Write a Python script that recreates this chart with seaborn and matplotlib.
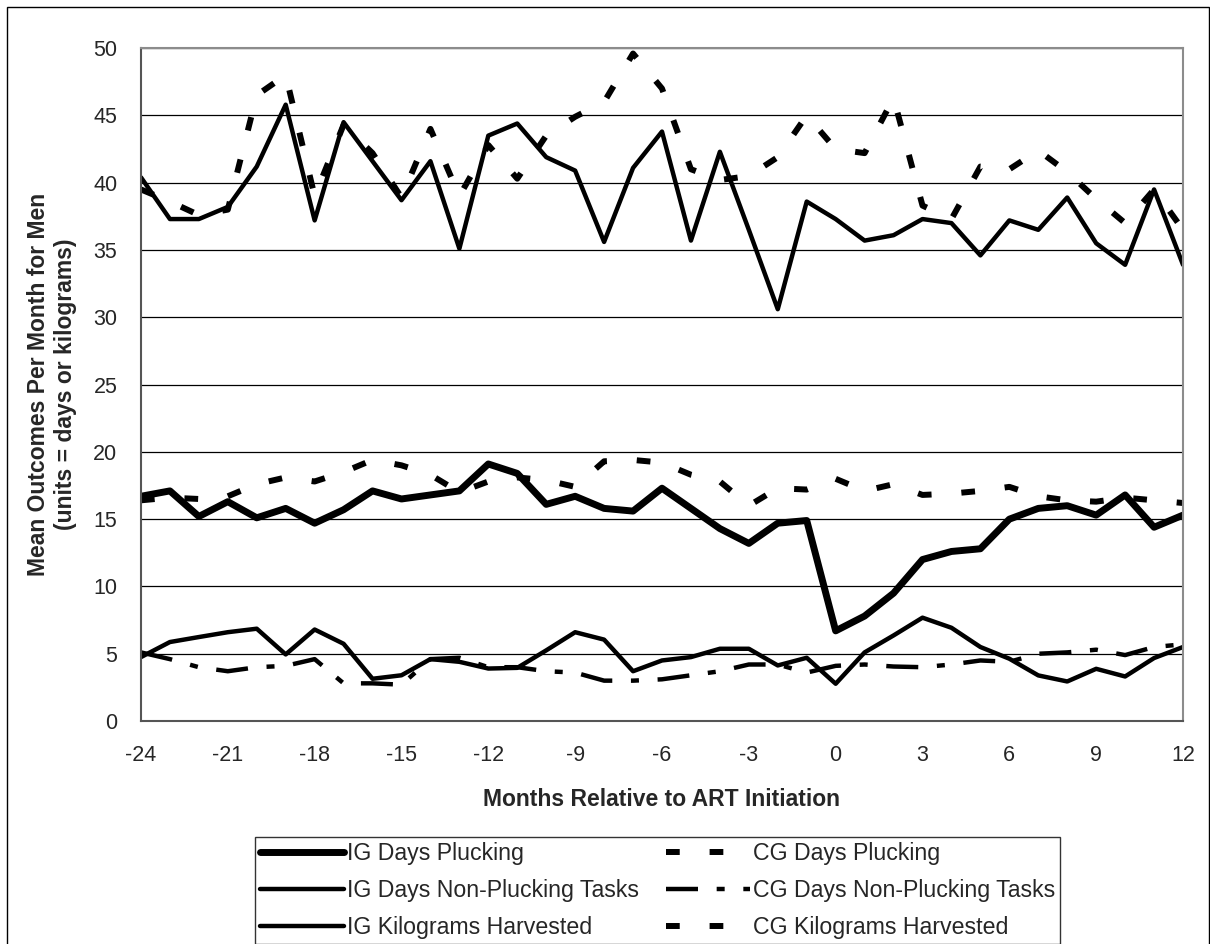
import matplotlib
matplotlib.use('Agg')
import matplotlib.pyplot as plt
import seaborn as sns
from matplotlib.patches import Rectangle

# months relative to ART initiation
months = list(range(-24, 13))

ig_days_plucking = [16.7, 17.1, 15.2, 16.3, 15.1, 15.8, 14.7, 15.7, 17.1, 16.5, 16.8, 17.1,
                    19.1, 18.4, 16.1, 16.7, 15.8, 15.6, 17.3, 15.8, 14.3, 13.2, 14.7, 14.9,
                    6.7, 7.8, 9.5, 12.0, 12.6, 12.8, 15.0, 15.8, 16.0, 15.3, 16.8, 14.4, 15.3]
ig_days_nonplucking = [4.75, 5.87, 6.24, 6.6, 6.86, 4.95, 6.8, 5.74, 3.14, 3.4, 4.6, 4.4,
                       3.9, 3.95, 5.25, 6.6, 6.05, 3.7, 4.5, 4.75, 5.37, 5.37, 4.13, 4.7,
                       2.77, 5.1, 6.36, 7.68, 6.93, 5.5, 4.63, 3.39, 2.94, 3.88, 3.31, 4.68, 5.5]
ig_kg = [40.4, 37.3, 37.3, 38.2, 41.2, 45.8, 37.2, 44.5, 41.6, 38.7, 41.6, 35.1,
         43.5, 44.4, 41.9, 40.9, 35.6, 41.1, 43.8, 35.7, 42.3, 36.5, 30.6, 38.6,
         37.3, 35.7, 36.1, 37.3, 37.0, 34.6, 37.2, 36.5, 38.9, 35.5, 33.9, 39.5, 33.9]
cg_days_plucking = [16.4, 16.6, 16.5, 16.7, 17.6, 18.1, 17.8, 18.5, 19.4, 19.0, 18.3, 17.0,
                    17.8, 18.1, 17.9, 17.4, 19.3, 19.4, 19.2, 18.3, 17.8, 16.0, 17.3, 17.2,
                    18.0, 17.1, 17.6, 16.8, 16.9, 17.1, 17.4, 16.7, 16.4, 16.3, 16.6, 16.4, 16.2]
cg_days_nonplucking = [5.1, 4.6, 4.0, 3.7, 4.0, 4.1, 4.6, 2.8, 2.8, 2.7, 4.6, 4.7,
                       4.0, 4.0, 3.7, 3.6, 3.0, 3.0, 3.1, 3.4, 3.7, 4.2, 4.2, 3.6,
                       4.1, 4.2, 4.05, 4.0, 4.2, 4.5, 4.4, 5.0, 5.1, 5.3, 4.9, 5.5, 5.7]
cg_kg = [39.5, 38.6, 37.6, 38.0, 46.5, 48.0, 39.0, 44.3, 42.2, 38.9, 44.0, 39.0,
         42.8, 40.3, 43.5, 44.9, 46.0, 49.6, 47.0, 41.0, 40.2, 40.5, 41.9, 45.0,
         42.5, 42.2, 46.3, 38.3, 37.3, 41.2, 41.0, 42.4, 40.8, 38.8, 37.0, 39.5, 36.5]

sns.set_style("white")
plt.rcParams['font.family'] = ['Liberation Sans', 'DejaVu Sans']
plt.rcParams['axes.unicode_minus'] = False

fig, ax = plt.subplots(figsize=(12.1, 9.44), dpi=100)
fig.subplots_adjust(left=0.1165, right=0.9777, top=0.949, bottom=0.2362)

dash_thick = (0, (2.3, 5.0))
dash_dot = (0, (7.2, 4.2, 1.8, 4.2))

# intervention group: solid lines
sns.lineplot(x=months, y=ig_days_plucking, ax=ax, color='black', linewidth=5,
             label='IG Days Plucking')
sns.lineplot(x=months, y=ig_days_nonplucking, ax=ax, color='black', linewidth=3.2,
             label='IG Days Non-Plucking Tasks')
sns.lineplot(x=months, y=ig_kg, ax=ax, color='black', linewidth=3.2,
             label='IG Kilograms Harvested')
# comparison group: dashed lines
sns.lineplot(x=months, y=cg_days_plucking, ax=ax, color='black', linewidth=4.3,
             linestyle=dash_thick, dash_capstyle='butt', label='CG Days Plucking')
sns.lineplot(x=months, y=cg_days_nonplucking, ax=ax, color='black', linewidth=3.2,
             linestyle=dash_dot, dash_capstyle='butt', label='CG Days Non-Plucking Tasks')
sns.lineplot(x=months, y=cg_kg, ax=ax, color='black', linewidth=4.3,
             linestyle=dash_thick, dash_capstyle='butt', label='CG Kilograms Harvested')

ax.set_xlim(-24, 12)
ax.set_ylim(0, 50)
ax.set_xticks(range(-24, 13, 3))
ax.set_xticks(months, minor=True)
ax.set_yticks(range(0, 51, 5))
ax.tick_params(axis='both', which='both', direction='out', length=7, width=1,
               color='#555555', labelsize=15.5, pad=10)
ax.yaxis.grid(True, color='black', linewidth=0.9)
ax.xaxis.grid(False)

for side in ['top', 'right']:
    ax.spines[side].set_color('#8c8c8c')
    ax.spines[side].set_linewidth(1.5)
for side in ['left', 'bottom']:
    ax.spines[side].set_color('#555555')
    ax.spines[side].set_linewidth(1.5)

ax.set_xlabel('Months Relative to ART Initiation', fontsize=16.5, fontweight='bold', labelpad=16)
ax.set_ylabel('Mean Outcomes Per Month for Men\n(units = days or kilograms)',
              fontsize=16.5, fontweight='bold', labelpad=12)

handles, labels = ax.get_legend_handles_labels()
ax.get_legend().remove()
leg = fig.legend(handles, labels, ncol=2, loc='upper left',
                 bbox_to_anchor=(255 / 1210, 1 - 837 / 944),
                 fontsize=16.7, frameon=True, fancybox=False, edgecolor='black',
                 handlelength=3.65, handletextpad=0.12, labelspacing=0.62,
                 borderaxespad=0, borderpad=0.2, columnspacing=1.15)
leg.get_frame().set_linewidth(1.0)

# outer chart border
fig.patches.append(Rectangle((7 / 1210, -0.01), (1209 - 7) / 1210, 1.0026,
                             transform=fig.transFigure, fill=False,
                             edgecolor='black', linewidth=1.0))

plt.savefig('out.png', dpi=100)
